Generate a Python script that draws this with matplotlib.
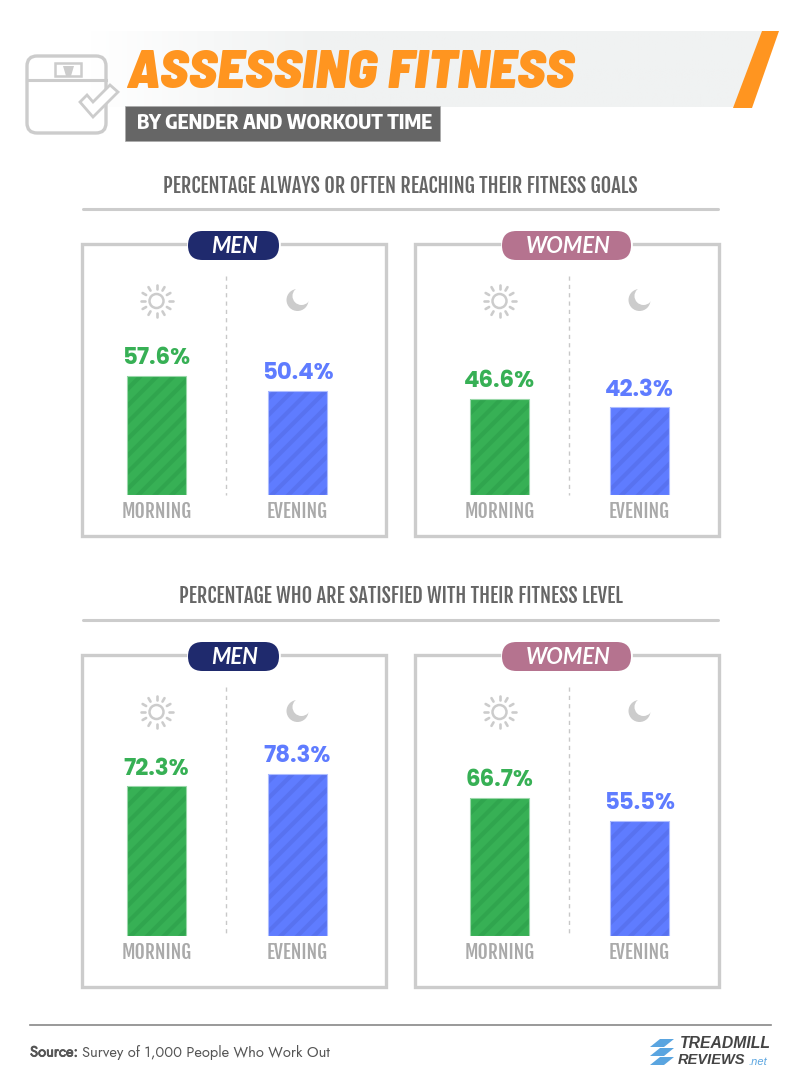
import matplotlib
matplotlib.use("Agg")
import logging
import matplotlib.pyplot as plt
import matplotlib.patheffects as pe
import numpy as np
from matplotlib.colors import LinearSegmentedColormap
from matplotlib.patches import Circle, FancyBboxPatch, Polygon, Rectangle

logging.getLogger("matplotlib.font_manager").setLevel(logging.ERROR)

W = 801
H = 1089

times = ["MORNING", "EVENING"]
goals_men = [57.6, 50.4]
goals_women = [46.6, 42.3]
satisfied_men = [72.3, 78.3]
satisfied_women = [66.7, 55.5]

title = "ASSESSING FITNESS"
subtitle = "BY GENDER AND WORKOUT TIME"
heading_goals = "PERCENTAGE ALWAYS OR OFTEN REACHING THEIR FITNESS GOALS"
heading_satisfied = "PERCENTAGE WHO ARE SATISFIED WITH THEIR FITNESS LEVEL"

GREEN = "#37b055"
BLUE = "#5f7cff"
GREEN_DARK = "#30a54e"
BLUE_DARK = "#5872f0"
GREY = "#cccccc"
NAVY = "#1f2a6d"
PINK = "#b5738f"
ORANGE = "#ff9520"

# nicer faces first, the plain ones are the fallback
NARROW = ["Fjalla One", "Liberation Sans"]
SUB = ["Encode Sans Condensed", "Liberation Sans"]
HEAVY = ["Barlow Semi Condensed", "Lato", "DejaVu Sans"]
VALUE = ["Poppins", "Lato", "DejaVu Sans"]
PLAIN = ["Jost", "Lato", "DejaVu Sans"]

plt.rcParams["hatch.linewidth"] = 3.0

fig = plt.figure(figsize=(W / 100, H / 100), dpi=100, facecolor="white")
bg = fig.add_axes([0, 0, 1, 1])
bg.set_xlim(0, W)
bg.set_ylim(H, 0)
bg.axis("off")


def drawHeader():
    grad = np.clip(np.linspace(0, 3, 256), 0, 1).reshape(1, -1)
    cmap = LinearSegmentedColormap.from_list("banner", ["#ffffff", "#f0f2f2"])
    im = bg.imshow(grad, extent=(90, 780, 107, 31), cmap=cmap, aspect="auto", zorder=1)
    clip = Polygon([(90, 31), (765, 31), (738, 107), (90, 107)], transform=bg.transData, fc="none", ec="none")
    bg.add_patch(clip)
    im.set_clip_path(clip)
    bg.set_xlim(0, W)
    bg.set_ylim(H, 0)
    bg.add_patch(Polygon([(762, 31), (779, 31), (752, 108), (733, 108)], fc=ORANGE, ec="none", zorder=2))
    bg.text(126, 73, title, color=ORANGE, fontsize=40, fontweight=900, style="italic",
            family=HEAVY, va="center", ha="left", zorder=3)
    bg.add_patch(Rectangle((125, 106), 315, 35, fc="#666666", ec="#aaaaaa", lw=0.5, zorder=3))
    bg.text(284.5, 123, subtitle, color="white", fontsize=14.3, fontweight=800, family=SUB,
            va="center", ha="center", zorder=4)
    # scale icon
    bg.add_patch(FancyBboxPatch((27, 56), 79, 77, boxstyle="round,pad=0,rounding_size=10",
                                fc="none", ec=GREY, lw=2.4, zorder=2))
    bg.plot([27, 106], [80, 80], color=GREY, lw=2.2, zorder=2)
    bg.add_patch(Rectangle((55, 63), 26, 13, fc="none", ec=GREY, lw=1.8, zorder=2))
    bg.add_patch(Polygon([(63, 66), (66, 76), (71, 76), (74, 66)], fc=GREY, ec="none", zorder=2))
    bg.add_patch(Polygon([(80, 102), (87, 95), (93, 102), (110, 85), (118, 92), (93, 117)],
                         fc="white", ec=GREY, lw=2.0, zorder=2))


def drawHeading(text, y, rule_y):
    bg.text(400.5, y, text, color="#666666", fontsize=14.6, family=NARROW, va="center", ha="center")
    bg.plot([83, 718], [rule_y, rule_y], color=GREY, lw=2.2, solid_capstyle="round")


def drawSun(cx, cy):
    bg.add_patch(Circle((cx, cy), 7, fc="none", ec=GREY, lw=1.8))
    for a in np.deg2rad(np.arange(0, 360, 30)):
        bg.plot([cx + 12 * np.cos(a), cx + 16 * np.cos(a)], [cy + 12 * np.sin(a), cy + 16 * np.sin(a)],
                color=GREY, lw=1.9, solid_capstyle="round")


def drawMoon(cx, cy):
    bg.add_patch(Circle((cx, cy), 11, fc=GREY, ec="none"))
    bg.add_patch(Circle((cx + 4, cy - 4), 9, fc="white", ec="none"))


def drawPanel(x0, y0, y1, base, label, pill_x0, pill_x1, pill_color, values, c0, c1):
    x1 = x0 + 304
    bg.plot([pill_x0 - 3, x0, x0, x1, x1, pill_x1 + 3], [y0, y0, y1, y1, y0, y0],
            color=GREY, lw=2.4, solid_joinstyle="miter")
    bg.add_patch(FancyBboxPatch((pill_x0, y0 - 13), pill_x1 - pill_x0, 29,
                                boxstyle="round,pad=0,rounding_size=14.5", fc=pill_color, ec="none", zorder=3))
    bg.text((pill_x0 + pill_x1) / 2 + 1.5, y0 + 2.5, label, color="white", fontsize=15.8, fontweight="bold",
            style="italic", family=["Lato", "DejaVu Sans"], ha="center", va="center", zorder=4)

    # axes is set so 0 and 1 land on the two bar centres
    step = c1 - c0
    ax = fig.add_axes([(c0 - step / 2) / W, 1 - base / H, 2 * step / W, 207 / H])
    ax.set_xlim(-0.5, 1.5)
    ax.set_ylim(0, 100)
    ax.axis("off")
    ax.patch.set_alpha(0)
    pos = [0, 1]
    bar_w = 59.0 / step
    ax.bar(pos, values, width=bar_w, color=[GREEN, BLUE], edgecolor=[GREEN_DARK, BLUE_DARK],
           linewidth=0, hatch="//")
    ax.bar(pos, values, width=bar_w, fill=False, edgecolor=["#9bd8aa", "#aebdff"], linewidth=0.8)
    for i in pos:
        ax.annotate("%.1f%%" % values[i], (i, values[i]), xytext=(0, 8.5), textcoords="offset points",
                    ha="center", va="baseline", color=[GREEN, BLUE][i], fontsize=16.5, fontweight="bold",
                    family=VALUE)
        ax.annotate(times[i], (i, 0), xytext=(0, -12), textcoords="offset points", ha="center", va="center",
                    color="#aaaaaa", fontsize=14, family=NARROW)

    div = (c0 + c1) / 2 - 1
    bg.plot([div, div], [y0 + 32, base], color="#c8c8c8", lw=1, ls=(0, (3, 3)))
    drawSun(c0, y0 + 57)
    drawMoon(c1, y0 + 56)


def drawFooter():
    bg.plot([30, 771], [1025, 1025], color="#888888", lw=1.2)
    bg.text(30, 1052, "Source:", color="#555555", fontsize=10.6, family=PLAIN, va="center", ha="left",
            path_effects=[pe.withStroke(linewidth=0.6, foreground="#555555")])
    bg.text(82, 1052, "Survey of 1,000 People Who Work Out", color="#555555", fontsize=10.6, family=PLAIN,
            va="center", ha="left")
    for dy in [0, 9, 18]:
        bg.add_patch(Polygon([(660, 1039 + dy), (674, 1039 + dy), (664, 1047 + dy), (650, 1047 + dy)],
                             fc="#5aa5e0", ec="none"))
    bg.text(680, 1044, "TREADMILL", color="#444444", fontsize=11.3, fontweight="bold", style="italic",
            family="Liberation Sans", va="center", ha="left")
    bg.text(678, 1059.5, "REVIEWS", color="#444444", fontsize=10.5, fontweight="bold", style="italic",
            family="Liberation Sans", va="center", ha="left")
    bg.text(748.5, 1062, ".net", color="#5aa5e0", fontsize=8, style="italic",
            family="Liberation Sans", va="center", ha="left")


drawHeader()
drawHeading(heading_goals, 186, 209)
drawHeading(heading_satisfied, 596, 620)
drawPanel(82, 244, 536, 495, "MEN", 188, 279, NAVY, goals_men, 156.5, 297.5)
drawPanel(415, 244, 536, 495, "WOMEN", 502, 631, PINK, goals_women, 499.5, 639.5)
drawPanel(82, 655, 987, 936, "MEN", 188, 279, NAVY, satisfied_men, 156.5, 297.5)
drawPanel(415, 655, 987, 936, "WOMEN", 502, 631, PINK, satisfied_women, 499.5, 639.5)
drawFooter()

fig.savefig("out.png", dpi=100)
